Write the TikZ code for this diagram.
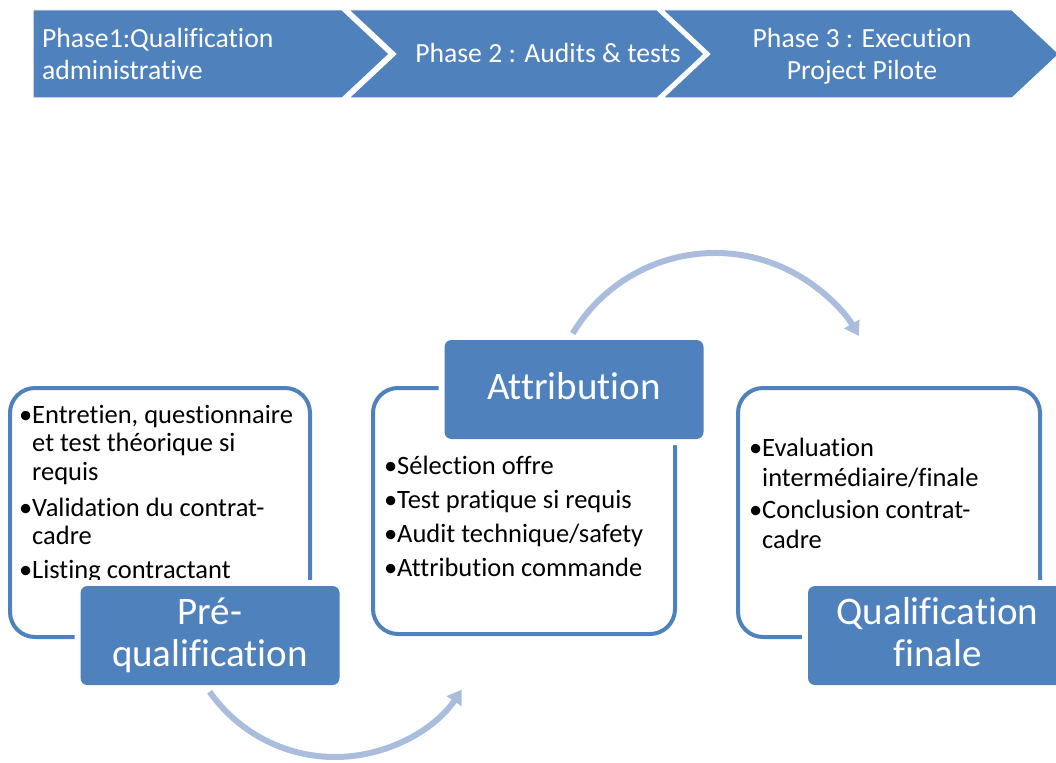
\documentclass[tikz,border=0pt]{standalone}
\usepackage{fontspec}
\setmainfont{Carlito}[Ligatures={NoCommon,NoContextual},RawFeature={-liga;-clig;-dlig;-calt}]
\usetikzlibrary{arrows.meta,calc}
\definecolor{accent}{HTML}{4F81BD}
\definecolor{arcblue}{HTML}{ABBDDC}
\tikzset{
  chevron/.style={fill=accent, draw=white, line width=1pt},
  chevtext/.style={text=white, inner sep=0pt, outer sep=0pt, font=\fontsize{27.7}{32}\selectfont},
  contentbox/.style={draw=accent, line width=4pt, fill=white, rounded corners=25pt},
  bodytext/.style={inner sep=0pt, outer sep=0pt, anchor=north west, align=left, text=black},
  labelbox/.style={fill=accent, rounded corners=7pt, text=white, align=center,
    minimum width=259pt, minimum height=99pt, inner sep=0pt, outer sep=0pt,
    preaction={draw=white, line width=12pt, rounded corners=7pt},
    font=\fontsize{39}{42}\selectfont},
  cyclearrow/.style={draw=arcblue, line width=6pt, -{Triangle[length=14pt,width=17pt]}}
}
\newcommand{\fstrut}{\rule{0pt}{20pt}}
\newcommand{\lstrutA}{\rule{0pt}{30pt}}
\newcommand{\lstrutB}{\rule[-10pt]{0pt}{10pt}}
\newcommand{\bul}{\phantom{•}}
\begin{document}
\begin{tikzpicture}[x=1pt,y=1pt]
\useasboundingbox (0,0) rectangle (1056,-762);
% chevrons
\draw[chevron] (33,-10) -- (342,-10) -- (389,-54) -- (342,-98) -- (33,-98) -- cycle;
\draw[chevron] (349,-10) -- (657,-10) -- (704,-54) -- (657,-98) -- (349,-98) -- (396,-54) -- cycle;
\draw[chevron] (663,-10) -- (1012,-10) -- (1059,-54) -- (1012,-98) -- (663,-98) -- (710,-54) -- cycle;
\node[chevtext, anchor=north west, align=left] (p1) at (42,-26) {\rule{0pt}{22pt}Phase1:Qualification\\administrative};
\node[chevtext, anchor=base] (p2) at (548,-63) {Phase 2 : Audits \& tests};
\node[chevtext, anchor=north, align=center] (p3) at (862,-26) {\rule{0pt}{22pt}Phase 3 : Execution\\Project Pilote};
% content boxes
\draw[contentbox] (10,-388) rectangle (310,-637);
\draw[contentbox] (373,-388) rectangle (675,-634);
\draw[contentbox] (738,-388) rectangle (1040,-637);
\node[bodytext, font=\fontsize{26.5}{28.7}\selectfont] (t1) at (19,-403)
  {\fstrut•Entretien, questionnaire\\\bul et test théorique si\\\bul requis\\[7pt]
   •Validation du contrat-\\\bul cadre\\[5pt]•Listing contractant};
\node[bodytext, font=\fontsize{26.5}{34.3}\selectfont] (t2) at (384,-454)
  {\fstrut•Sélection offre\\•Test pratique si requis\\•Audit technique/safety\\•Attribution commande};
\node[bodytext, font=\fontsize{26.5}{30}\selectfont] (t3) at (749,-436)
  {\fstrut•Evaluation\\\bul intermédiaire/finale\\[2pt]•Conclusion contrat-\\\bul cadre};
% label boxes
\node[labelbox] (l1) at (210,-635.5) {\lstrutA Pré-\\qualification\lstrutB};
\node[labelbox] (l2) at (574,-389.5) {\lstrutA Attribution\lstrutB};
\node[labelbox] (l3) at (937.5,-635.5) {\lstrutA Qualification\\finale\lstrutB};
% cycle arrows
\coordinate (a1s) at ($(335,-604)+(-145:153)$);
\coordinate (a2s) at ($(715,-419)+(149:166)$);
\draw[cyclearrow] (a1s) arc[start angle=-145, end angle=-34, radius=153];
\draw[cyclearrow] (a2s) arc[start angle=149, end angle=30, radius=166];
\end{tikzpicture}
\end{document}
